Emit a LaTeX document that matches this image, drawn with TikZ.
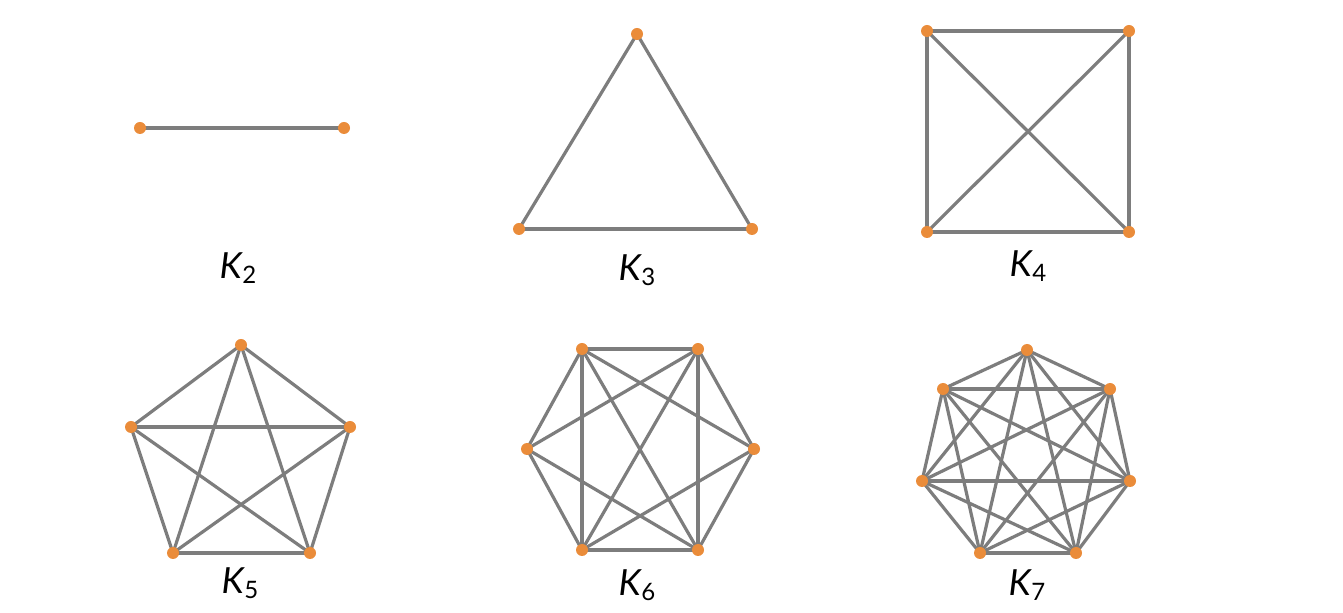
\documentclass[tikz,border=0pt]{standalone}
\usepackage{fontspec}
\setmainfont{Lato}
\definecolor{edgegray}{RGB}{125,125,125}
\definecolor{vorange}{RGB}{234,140,58}
\newcommand{\Klabel}[1]{{\fontsize{18}{18}\selectfont\itshape K}\kern0.3pt\raisebox{-2.5pt}{\fontsize{12}{12}\selectfont #1}}
\tikzset{
  edge/.style={draw=edgegray, line width=1.6pt},
  vert/.style={circle, fill=vorange, inner sep=0pt, minimum size=6pt},
  klab/.style={inner sep=0pt, anchor=base}
}
\begin{document}
\begin{tikzpicture}[x=0.5pt,y=-0.5pt]
\useasboundingbox (0,0) rectangle (1343,613);
% K2
\coordinate (b1) at (140,128);
\coordinate (b2) at (344,128);
% K3
\coordinate (c1) at (637,34);
\coordinate (c2) at (519,229);
\coordinate (c3) at (752,229);
% K4
\coordinate (d1) at (927,31);
\coordinate (d2) at (1129,31);
\coordinate (d3) at (1129,232);
\coordinate (d4) at (927,232);
% K5
\coordinate (e1) at (241,345);
\coordinate (e2) at (350,427);
\coordinate (e3) at (310,553);
\coordinate (e4) at (173,553);
\coordinate (e5) at (131,427);
% K6
\coordinate (f1) at (582,349);
\coordinate (f2) at (698,349);
\coordinate (f3) at (754,449);
\coordinate (f4) at (698,550);
\coordinate (f5) at (582,550);
\coordinate (f6) at (527,449);
% K7
\coordinate (g1) at (1027,350);
\coordinate (g2) at (1110,389);
\coordinate (g3) at (1130,481);
\coordinate (g4) at (1076,553);
\coordinate (g5) at (980,553);
\coordinate (g6) at (922,481);
\coordinate (g7) at (943,389);
% edges
\draw[edge] (b1) -- (b2);
\foreach \i/\j in {1/2,1/3,2/3} \draw[edge] (c\i) -- (c\j);
\foreach \i/\j in {1/2,1/3,1/4,2/3,2/4,3/4} \draw[edge] (d\i) -- (d\j);
\foreach \i in {1,...,5}{\foreach \j in {1,...,5}{\ifnum\i<\j \draw[edge] (e\i) -- (e\j);\fi}}
\foreach \i/\j in {1/2,1/3,1/4,1/5,1/6,2/3,2/4,2/5,2/6,3/4,3/5,4/5,4/6,5/6} \draw[edge] (f\i) -- (f\j);
\foreach \i in {1,...,7}{\foreach \j in {1,...,7}{\ifnum\i<\j \draw[edge] (g\i) -- (g\j);\fi}}
% vertices
\foreach \v in {b1,b2,c1,c2,c3,d1,d2,d3,d4,e1,e2,e3,e4,e5,f1,f2,f3,f4,f5,f6,g1,g2,g3,g4,g5,g6,g7}
  \node[vert] (\v-dot) at (\v) {};
% labels
\node[klab] (l2) at (238,279) {\Klabel{2}};
\node[klab] (l3) at (637,281) {\Klabel{3}};
\node[klab] (l4) at (1028,277) {\Klabel{4}};
\node[klab] (l5) at (240,594) {\Klabel{5}};
\node[klab] (l6) at (637,596) {\Klabel{6}};
\node[klab] (l7) at (1027,596) {\Klabel{7}};
\end{tikzpicture}
\end{document}
